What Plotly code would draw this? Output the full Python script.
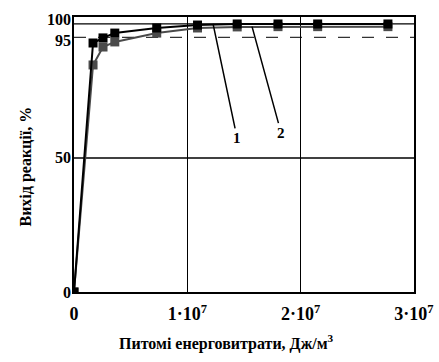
import plotly.graph_objects as go

energy = [0, 1.68e6, 2.56e6, 3.6e6, 7.3e6, 1.09e7, 1.44e7, 1.80e7, 2.15e7, 2.77e7]
yield_1 = [0, 92.9, 94.8, 96.6, 98.5, 99.6, 100.0, 100.0, 100.0, 100.0]
yield_2 = [0, 84.7, 91.4, 93.3, 96.6, 98.5, 98.9, 99.0, 99.0, 99.0]

x_ticks = [0, 1e7, 2e7, 3e7]
x_tick_text = ["0", "1·10<sup>7</sup>", "2·10<sup>7</sup>", "3·10<sup>7</sup>"]
y_ticks = [0, 50, 95, 100]
y_tick_text = ["0", "50", "95", "100"]
y_label_shift = [0, 0, -3, 4]

x_title = "Питомі енерговитрати, Дж/м<sup>3</sup>"
y_title = "Вихід реакції, %"

font_family = "Liberation Serif, Times New Roman, serif"

fig = go.Figure()
fig.add_trace(go.Scatter(x=energy, y=yield_2, mode="lines+markers",
                         line=dict(color="#4a4a4a", width=2),
                         marker=dict(symbol="square", size=9, color="#4a4a4a"),
                         name="2"))
fig.add_trace(go.Scatter(x=energy, y=yield_1, mode="lines+markers",
                         line=dict(color="black", width=2),
                         marker=dict(symbol="square", size=9, color="black"),
                         name="1"))

# reference lines
for yv in [50, 100]:
    fig.add_shape(type="line", xref="paper", yref="y", x0=0, x1=1, y0=yv, y1=yv,
                  line=dict(color="black", width=1.3), layer="below")
fig.add_shape(type="line", xref="paper", yref="y", x0=0, x1=1, y0=95, y1=95,
              line=dict(color="#333", width=1.3, dash="12px,12px"), layer="below")

# y tick labels (95 and 100 are pushed apart as in the original)
for val, txt, sh in zip(y_ticks, y_tick_text, y_label_shift):
    fig.add_annotation(xref="paper", yref="y", x=0, y=val, text=f"<b>{txt}</b>",
                       showarrow=False, xanchor="right", yanchor="middle",
                       xshift=-1, yshift=sh,
                       font=dict(family=font_family, size=16, color="black"))

# axis titles
fig.add_annotation(xref="paper", yref="paper", x=0.5, y=-0.185, xshift=-18,
                   text=f"<b>{x_title}</b>", showarrow=False,
                   xanchor="center", yanchor="middle",
                   font=dict(family=font_family, size=16, color="black"))
fig.add_annotation(xref="paper", yref="paper", x=-0.144, y=0.5, yshift=-12,
                   text=f"<b>{y_title}</b>", showarrow=False, textangle=-90,
                   xanchor="center", yanchor="middle",
                   font=dict(family=font_family, size=16, color="black"))

fig.add_annotation(x=1.227e7, y=100, text="<b>1</b>", showarrow=True, arrowhead=0,
                   arrowwidth=1.5, arrowcolor="black", ax=24, ay=114,
                   font=dict(family=font_family, size=15, color="black"))
fig.add_annotation(x=1.571e7, y=99, text="<b>2</b>", showarrow=True, arrowhead=0,
                   arrowwidth=1.5, arrowcolor="black", ax=29, ay=106,
                   font=dict(family=font_family, size=15, color="black"))

fig.update_layout(
    width=439, height=362,
    margin=dict(l=74, r=25, t=17, b=70, autoexpand=False),
    plot_bgcolor="white", paper_bgcolor="white",
    showlegend=False,
    font=dict(family=font_family, size=18, color="black"),
    xaxis=dict(range=[0, 3e7], tickvals=x_ticks, ticktext=[f"<b>{t}</b>" for t in x_tick_text],
               showgrid=True, gridcolor="black", gridwidth=1.3,
               showline=True, linecolor="black", linewidth=1.5, mirror=True,
               zeroline=False, ticks="", ticklen=0, automargin=False,
               ticklabelstandoff=5),
    yaxis=dict(range=[0, 102.6], tickvals=y_ticks, showticklabels=False,
               showgrid=False,
               showline=True, linecolor="black", linewidth=1.5, mirror=True,
               zeroline=False, ticks="", ticklen=0, automargin=False),
)

fig.write_html("out.html", config={"displayModeBar": False},
               post_script="document.body.style.margin='0';document.body.style.overflow='hidden';")
